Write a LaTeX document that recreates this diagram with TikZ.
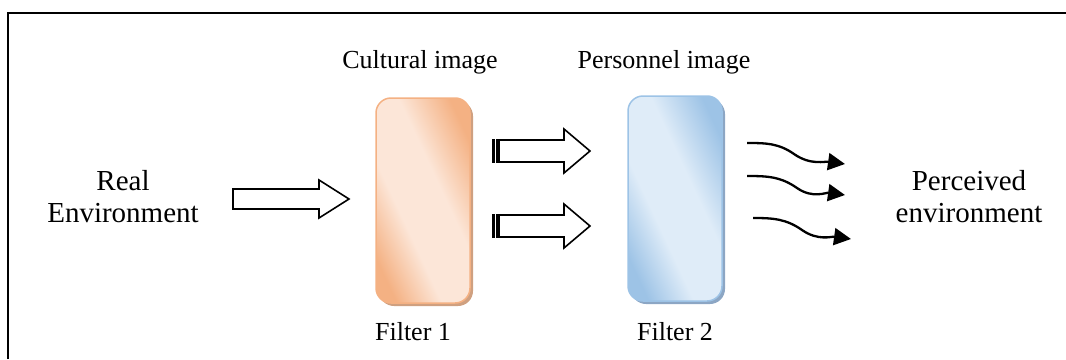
\documentclass[tikz,border=0pt]{standalone}
\usepackage{fontspec}
\setmainfont{Liberation Serif}
\usetikzlibrary{arrows.meta,shadows}
\definecolor{orL}{HTML}{FCE6D8}
\definecolor{orD}{HTML}{F4B183}
\definecolor{orS}{HTML}{CFA080}
\definecolor{blL}{HTML}{DFECF8}
\definecolor{blD}{HTML}{9DC3E6}
\definecolor{blS}{HTML}{8CA6C4}
\pgfdeclarehorizontalshading{orshade}{100bp}{color(0bp)=(orD); color(24bp)=(orD); color(40bp)=(orL); color(58bp)=(orL); color(76bp)=(orD); color(100bp)=(orD)}
\pgfdeclarehorizontalshading{blshade}{100bp}{color(0bp)=(blD); color(24bp)=(blD); color(40bp)=(blL); color(58bp)=(blL); color(76bp)=(blD); color(100bp)=(blD)}
\tikzset{
  bigtext/.style={font=\fontsize{29}{32}\selectfont, align=center, inner sep=0pt},
  smalltext/.style={font=\fontsize{26}{30}\selectfont, inner sep=0pt, anchor=base},
  filterbox/.style={minimum width=94pt, minimum height=205pt, rounded corners=15pt, line width=1.5pt, inner sep=0pt},
  blockarrow/.style={draw=black, fill=white, line width=1.6pt, line join=miter},
  wavy/.style={line width=2.3pt, -{Triangle[length=17pt,width=17pt]}}
}
\begin{document}
\begin{tikzpicture}[x=1pt,y=-1pt]
\useasboundingbox (0,0) rectangle (1066,359);
% frame
\draw[line width=2pt] (8.3,359) -- (8.3,12.7) -- (1070,12.7);
% texts
\node[bigtext] (real) at (123,197) {Real\\Environment};
\node[bigtext] (perc) at (969,197) {Perceived\\environment};
\node[smalltext] (cult) at (420,68) {Cultural image};
\node[smalltext] (pers) at (664,68) {Personnel image};
\node[smalltext] (f1lab) at (413,340) {Filter 1};
\node[smalltext] (f2lab) at (675,340) {Filter 2};
% filters
\node[filterbox, draw=orD, shading=orshade, shading angle=25,
  drop shadow={shadow xshift=3pt, shadow yshift=-3pt, fill=orS, opacity=1}] (f1) at (423,200.5) {};
\node[filterbox, draw=blD, shading=blshade, shading angle=25,
  drop shadow={shadow xshift=3pt, shadow yshift=-3pt, fill=blS, opacity=1}] (f2) at (675,198.5) {};
% block arrow real -> filter 1
\draw[blockarrow] (233,189) -- (319,189) -- (319,180) -- (349,199) -- (319,218) -- (319,209) -- (233,209) -- cycle;
% striped arrows filter 1 -> filter 2
\fill (491.5,139) rectangle (494.8,163);
\fill (495.8,139) rectangle (499,163);
\draw[blockarrow] (499,140) -- (564,140) -- (564,129) -- (590,151) -- (564,173) -- (564,162) -- (499,162) -- cycle;
\fill (491.5,214) rectangle (494.8,238);
\fill (495.8,214) rectangle (499,238);
\draw[blockarrow] (499,215) -- (564,215) -- (564,204) -- (590,226) -- (564,248) -- (564,237) -- (499,237) -- cycle;
% wavy arrows filter 2 -> perceived
\coordinate (s1) at (747,143); \coordinate (b1) at (794,154); \coordinate (e1) at (845,164);
\coordinate (s2) at (747,176); \coordinate (b2) at (797,188); \coordinate (e2) at (845,195);
\coordinate (s3) at (753,218); \coordinate (b3) at (802,230); \coordinate (e3) at (851,239);
\draw[wavy] (s1) to[out=0,in=145] (b1) to[out=-35,in=172] (e1);
\draw[wavy] (s2) to[out=0,in=145] (b2) to[out=-35,in=172] (e2);
\draw[wavy] (s3) to[out=0,in=145] (b3) to[out=-35,in=172] (e3);
\end{tikzpicture}
\end{document}
